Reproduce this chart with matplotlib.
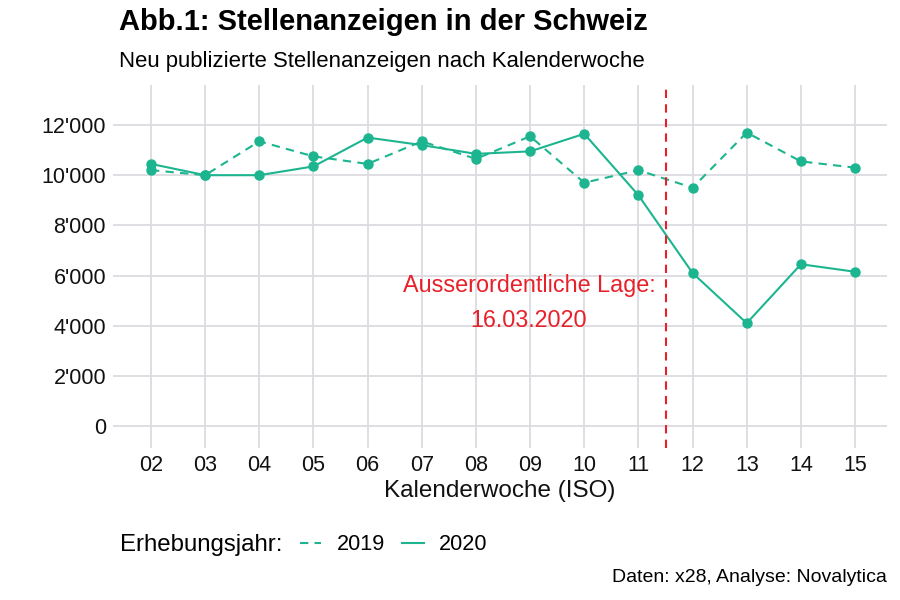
import matplotlib.pyplot as plt
from matplotlib.ticker import FuncFormatter

plt.rcParams['font.family'] = ['Liberation Sans', 'DejaVu Sans']

# Kalenderwochen und neu publizierte Stellenanzeigen
weeks = [2, 3, 4, 5, 6, 7, 8, 9, 10, 11, 12, 13, 14, 15]
week_labels = ['02', '03', '04', '05', '06', '07', '08', '09', '10', '11', '12', '13', '14', '15']
ads_2019 = [10200, 10000, 11350, 10750, 10450, 11350, 10650, 11550, 9700, 10200, 9500, 11700, 10550, 10300]
ads_2020 = [10450, 10000, 10000, 10350, 11500, 11200, 10850, 10950, 11650, 9200, 6100, 4100, 6450, 6150]
lockdown_x = 11.5

teal = '#1DB58F'
red = '#E8202A'

fig = plt.figure(figsize=(9, 6), dpi=100)
ax = fig.add_axes([0.1256, 0.2533, 0.86, 0.605])

l19, = ax.plot(weeks, ads_2019, color=teal, linestyle=(0, (4, 3)), linewidth=1.5,
               marker='o', markersize=6.5, label='2019')
l20, = ax.plot(weeks, ads_2020, color=teal, linestyle='-', linewidth=1.5,
               marker='o', markersize=6.5, label='2020')

ax.axvline(lockdown_x, color=red, linestyle=(0, (4, 3)), linewidth=1.5)
ax.text(8.98, 4900, 'Ausserordentliche Lage:\n16.03.2020', color=red, fontsize=16.8,
        ha='center', va='center', linespacing=1.68)

ax.set_xlim(1.3, 15.59)
ax.set_ylim(-877, 13595)
ax.set_xticks(weeks)
ax.set_xticklabels(week_labels)
ax.set_yticks(range(0, 12001, 2000))
ax.yaxis.set_major_formatter(FuncFormatter(lambda v, p: f"{int(v):,}".replace(',', "'")))

ax.grid(True, color='#DCDCE0', linewidth=1.3)
ax.set_axisbelow(True)
for s in ax.spines.values():
    s.set_visible(False)
ax.tick_params(length=0, labelsize=15.5, colors='#111111', pad=5)
ax.set_xlabel('Kalenderwoche (ISO)', fontsize=17.5, color='#111111', labelpad=3)

fig.text(0.132, 0.963, 'Abb.1: Stellenanzeigen in der Schweiz', fontsize=21, fontweight='bold',
         ha='left', va='center')
fig.text(0.132, 0.898, 'Neu publizierte Stellenanzeigen nach Kalenderwoche', fontsize=15.9,
         ha='left', va='center')

fig.text(0.1333, 0.0917, 'Erhebungsjahr:', fontsize=17.3, ha='left', va='center')
fig.legend(handles=[l19, l20], loc='center left', bbox_to_anchor=(0.333, 0.0917), ncol=2,
           frameon=False, fontsize=15.6, handlelength=1.0, columnspacing=0.8, handletextpad=0.7,
           borderaxespad=0, borderpad=0)
for h in fig.legends[0].legend_handles:
    h.set_marker('')

fig.text(0.9856, 0.0367, 'Daten: x28, Analyse: Novalytica', fontsize=14, ha='right', va='center')

fig.savefig('out.png', dpi=100, facecolor='white')
